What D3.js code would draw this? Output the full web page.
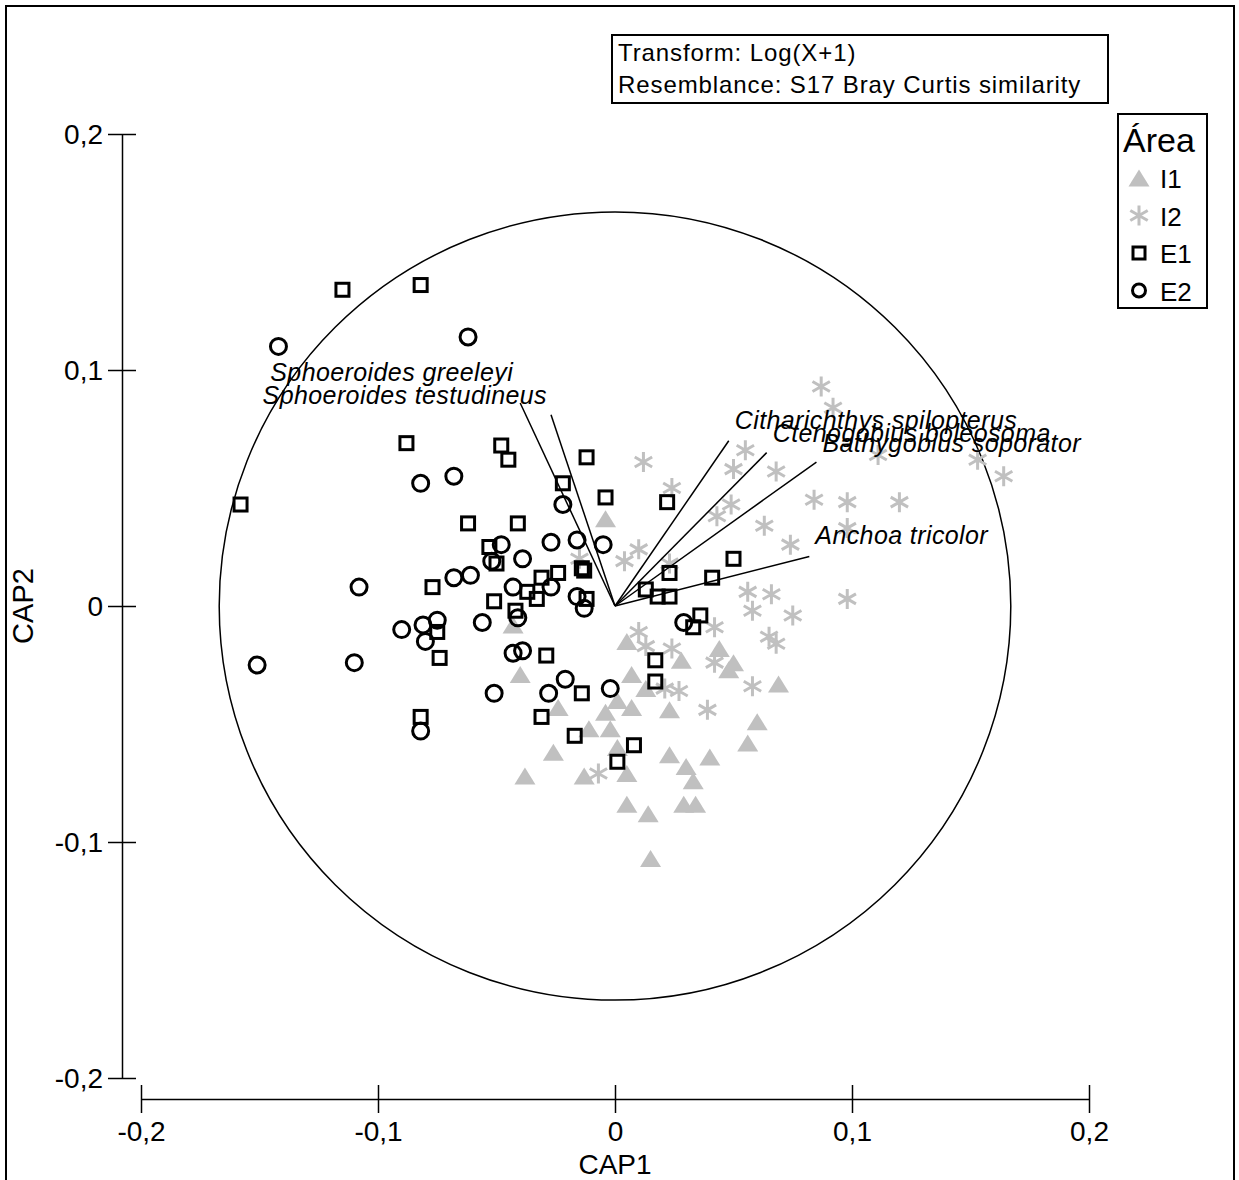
<!DOCTYPE html>
<html>
<head>
<meta charset="utf-8">
<script src="https://cdn.jsdelivr.net/npm/d3@7"></script>
<style>
  body { margin: 0; background: #fff; }
  svg { display: block; }
  text { font-family: "Liberation Sans", Arial, sans-serif; }
</style>
</head>
<body>
<div id="chart"></div>
<script>
/////////////////////////////////////
////////////// Data /////////////////
/////////////////////////////////////

var areas = ["I1", "I2", "E1", "E2"];

var tickValues = [-0.2, -0.1, 0, 0.1, 0.2];
var tickLabels = ["-0,2", "-0,1", "0", "0,1", "0,2"];

var infoLines = ["Transform: Log(X+1)", "Resemblance: S17 Bray Curtis similarity"];

// CAP1, CAP2 scores
var i1Points = [
  [-0.004, 0.037], [-0.043, -0.008], [-0.040, -0.029], [-0.024, -0.043], [-0.004, -0.045],
  [-0.011, -0.052], [-0.002, -0.052], [0.005, -0.015], [0.028, -0.023], [0.044, -0.018],
  [0.050, -0.024], [0.048, -0.027], [0.007, -0.029], [0.013, -0.035], [0.001, -0.040],
  [0.007, -0.043], [0.023, -0.044], [-0.026, -0.062], [0.001, -0.060], [0.023, -0.063],
  [0.030, -0.068], [0.040, -0.064], [-0.038, -0.072], [-0.013, -0.072], [0.005, -0.071],
  [0.033, -0.074], [0.005, -0.084], [0.014, -0.088], [0.029, -0.084], [0.034, -0.084],
  [0.015, -0.107], [0.069, -0.033], [0.060, -0.049], [0.056, -0.058]
];

var i2Points = [
  [0.087, 0.093], [0.092, 0.084], [0.012, 0.061], [0.055, 0.066], [0.050, 0.058],
  [0.068, 0.057], [0.024, 0.050], [0.084, 0.045], [0.098, 0.044], [0.120, 0.044],
  [0.049, 0.043], [0.043, 0.038], [0.063, 0.034], [0.098, 0.033], [0.074, 0.026],
  [0.010, 0.024], [0.004, 0.019], [0.023, 0.018], [0.056, 0.006], [0.066, 0.005],
  [0.058, -0.002], [0.075, -0.004], [0.098, 0.003], [0.042, -0.009], [0.010, -0.011],
  [0.065, -0.013], [0.068, -0.016], [0.013, -0.017], [0.024, -0.018], [0.042, -0.024],
  [0.027, -0.036], [0.058, -0.034], [0.039, -0.044], [-0.007, -0.071], [0.111, 0.064],
  [0.153, 0.062], [0.164, 0.055], [-0.015, 0.020], [0.021, -0.035]
];

var e1Points = [
  [-0.115, 0.134], [-0.082, 0.136], [-0.158, 0.043], [-0.088, 0.069], [-0.062, 0.035],
  [-0.048, 0.068], [-0.045, 0.062], [-0.012, 0.063], [-0.022, 0.052], [-0.004, 0.046],
  [0.022, 0.044], [-0.041, 0.035], [-0.053, 0.025], [-0.050, 0.018], [-0.077, 0.008],
  [-0.051, 0.002], [-0.031, 0.012], [-0.024, 0.014], [-0.014, 0.016], [-0.037, 0.006],
  [-0.033, 0.003], [-0.042, -0.002], [-0.012, 0.003], [-0.075, -0.011], [-0.074, -0.022],
  [-0.029, -0.021], [-0.014, -0.037], [-0.082, -0.047], [-0.031, -0.047], [-0.017, -0.055],
  [0.013, 0.007], [0.023, 0.014], [0.018, 0.004], [0.023, 0.004], [0.041, 0.012],
  [0.050, 0.020], [0.036, -0.004], [0.033, -0.009], [0.017, -0.023], [0.017, -0.032],
  [0.008, -0.059], [0.001, -0.066], [-0.013, 0.015]
];

var e2Points = [
  [-0.142, 0.110], [-0.062, 0.114], [-0.082, 0.052], [-0.068, 0.055], [-0.022, 0.043],
  [-0.027, 0.027], [-0.016, 0.028], [-0.005, 0.026], [-0.048, 0.026], [-0.039, 0.020],
  [-0.052, 0.019], [-0.068, 0.012], [-0.061, 0.013], [-0.108, 0.008], [-0.043, 0.008],
  [-0.027, 0.008], [-0.016, 0.004], [-0.013, -0.001], [-0.041, -0.005], [-0.090, -0.010],
  [-0.081, -0.008], [-0.075, -0.006], [-0.080, -0.015], [-0.056, -0.007], [-0.151, -0.025],
  [-0.110, -0.024], [-0.043, -0.020], [-0.039, -0.019], [-0.051, -0.037], [-0.028, -0.037],
  [-0.021, -0.031], [-0.002, -0.035], [-0.082, -0.053], [0.029, -0.007]
];

// species vectors
var species = ["Sphoeroides greeleyi", "Sphoeroides testudineus", "Citharichthys spilopterus",
               "Ctenogobius boleosoma", "Bathygobius soporator", "Anchoa tricolor"];
var vecX = [-0.040, -0.027, 0.048, 0.064, 0.085, 0.082];
var vecY = [0.086, 0.081, 0.070, 0.065, 0.061, 0.021];

var circleRadius = 0.167;

/////////////////////////////////////
///////////// Layout ////////////////
/////////////////////////////////////

var width = 1239, height = 1180;
var grey = "#c0c0c0";
// label nudges (px) from the vector tip
var labelNudge = [[-7, -22], [-4, -11], [6, -12], [6, -11], [6, -10], [6, -12]];

var svg = d3.select("#chart")
  .append("svg")
    .attr("width", width)
    .attr("height", height);

// outer frame
svg.append("rect")
  .attr("x", 6).attr("y", 6)
  .attr("width", 1228).attr("height", 1190)
  .attr("fill", "none")
  .attr("stroke", "#000")
  .attr("stroke-width", 2);

var x = d3.scaleLinear().domain([-0.2, 0.2]).range([141, 1089]);
var y = d3.scaleLinear().domain([-0.2, 0.2]).range([1078, 134]);

var fmt = function(d) { return tickLabels[tickValues.indexOf(d)]; };

// X axis
var gx = svg.append("g")
  .attr("transform", "translate(0,1099)")
  .call(d3.axisBottom(x).tickValues(tickValues).tickFormat(fmt).tickSizeOuter(0));
gx.select(".domain").attr("stroke-width", 1.5);
gx.selectAll(".tick line").attr("y1", -14).attr("y2", 14).attr("stroke-width", 1.5);
gx.selectAll(".tick text")
  .attr("y", 42).attr("dy", 0)
  .style("font-size", "28px")
  .style("font-family", "'Liberation Sans', Arial, sans-serif");

// Y axis
var gy = svg.append("g")
  .attr("transform", "translate(122,0)")
  .call(d3.axisLeft(y).tickValues(tickValues).tickFormat(fmt).tickSizeOuter(0));
gy.select(".domain").attr("stroke-width", 1.5);
gy.selectAll(".tick line").attr("x1", -14).attr("x2", 14).attr("stroke-width", 1.5);
gy.selectAll(".tick text")
  .attr("x", -19).attr("dy", "0.35em")
  .style("font-size", "28px")
  .style("font-family", "'Liberation Sans', Arial, sans-serif");

// axis titles
svg.append("text")
  .attr("x", x(0)).attr("y", 1174)
  .attr("text-anchor", "middle")
  .style("font-size", "28px")
  .text("CAP1");
svg.append("text")
  .attr("transform", "translate(33," + y(0) + ")rotate(-90)")
  .attr("text-anchor", "middle")
  .style("font-size", "29px")
  .text("CAP2");

// correlation circle
svg.append("ellipse")
  .attr("cx", x(0)).attr("cy", y(0))
  .attr("rx", x(circleRadius) - x(0))
  .attr("ry", y(0) - y(circleRadius))
  .attr("fill", "none")
  .attr("stroke", "#000")
  .attr("stroke-width", 1.5);

// symbols
var triPath = "M0,-8.5L10.5,8.5L-10.5,8.5Z";
var starPath = "M0,-10L0,10M-8.7,-5L8.7,5M-8.7,5L8.7,-5";

svg.append("g").selectAll("path")
  .data(i1Points)
  .enter()
  .append("path")
    .attr("transform", function(d) { return "translate(" + x(d[0]) + "," + y(d[1]) + ")"; })
    .attr("d", triPath)
    .attr("fill", grey);

svg.append("g").selectAll("path")
  .data(i2Points)
  .enter()
  .append("path")
    .attr("transform", function(d) { return "translate(" + x(d[0]) + "," + y(d[1]) + ")"; })
    .attr("d", starPath)
    .attr("fill", "none")
    .attr("stroke", grey)
    .attr("stroke-width", 3);

svg.append("g").selectAll("rect")
  .data(e1Points)
  .enter()
  .append("rect")
    .attr("x", function(d) { return x(d[0]) - 6.5; })
    .attr("y", function(d) { return y(d[1]) - 6.5; })
    .attr("width", 13).attr("height", 13)
    .attr("fill", "none")
    .attr("stroke", "#000")
    .attr("stroke-width", 3);

svg.append("g").selectAll("circle")
  .data(e2Points)
  .enter()
  .append("circle")
    .attr("cx", function(d) { return x(d[0]); })
    .attr("cy", function(d) { return y(d[1]); })
    .attr("r", 8)
    .attr("fill", "none")
    .attr("stroke", "#000")
    .attr("stroke-width", 3);

// vectors + labels
var vec = species.map(function(s, i) { return {name: s, vx: vecX[i], vy: vecY[i], nudge: labelNudge[i]}; });

svg.append("g").selectAll("line")
  .data(vec)
  .enter()
  .append("line")
    .attr("x1", x(0)).attr("y1", y(0))
    .attr("x2", function(d) { return x(d.vx); })
    .attr("y2", function(d) { return y(d.vy); })
    .attr("stroke", "#000")
    .attr("stroke-width", 1.5);

svg.append("g").selectAll("text")
  .data(vec)
  .enter()
  .append("text")
    .attr("x", function(d) { return x(d.vx) + d.nudge[0]; })
    .attr("y", function(d) { return y(d.vy) + d.nudge[1]; })
    .attr("text-anchor", function(d) { return d.vx < 0 ? "end" : "start"; })
    .style("font-size", "25px")
    .style("font-style", "italic")
    .style("letter-spacing", "0.4px")
    .text(function(d) { return d.name; });

// info box
svg.append("rect")
  .attr("x", 612).attr("y", 35)
  .attr("width", 496).attr("height", 68)
  .attr("fill", "#fff")
  .attr("stroke", "#000")
  .attr("stroke-width", 2);
svg.selectAll(".info")
  .data(infoLines)
  .enter()
  .append("text")
    .attr("class", "info")
    .attr("x", 618)
    .attr("y", function(d, i) { return 61 + i * 32; })
    .style("font-size", "24px")
    .style("letter-spacing", "0.9px")
    .text(function(d) { return d; });

// legend
var legend = svg.append("g").attr("transform", "translate(1118,114)");
legend.append("rect")
  .attr("width", 89).attr("height", 194)
  .attr("fill", "#fff")
  .attr("stroke", "#000")
  .attr("stroke-width", 2);
legend.append("text")
  .attr("x", 5).attr("y", 38)
  .style("font-size", "34px")
  .text("Área");

var item = legend.selectAll(".item")
  .data(areas)
  .enter()
  .append("g")
    .attr("class", "item")
    .attr("transform", function(d, i) { return "translate(21," + (64 + i * 37.5) + ")"; });

item.append("path")
  .attr("d", function(d) { return d == "I1" ? triPath : d == "I2" ? starPath : null; })
  .attr("fill", function(d) { return d == "I1" ? grey : "none"; })
  .attr("stroke", function(d) { return d == "I2" ? grey : "none"; })
  .attr("stroke-width", 3);
item.filter(function(d) { return d == "E1"; })
  .append("rect")
    .attr("x", -6).attr("y", -6).attr("width", 12).attr("height", 12)
    .attr("fill", "none").attr("stroke", "#000").attr("stroke-width", 3);
item.filter(function(d) { return d == "E2"; })
  .append("circle")
    .attr("r", 6.5)
    .attr("fill", "none").attr("stroke", "#000").attr("stroke-width", 3);
item.append("text")
  .attr("x", 21).attr("y", 10)
  .style("font-size", "26px")
  .text(function(d) { return d; });
</script>
</body>
</html>
